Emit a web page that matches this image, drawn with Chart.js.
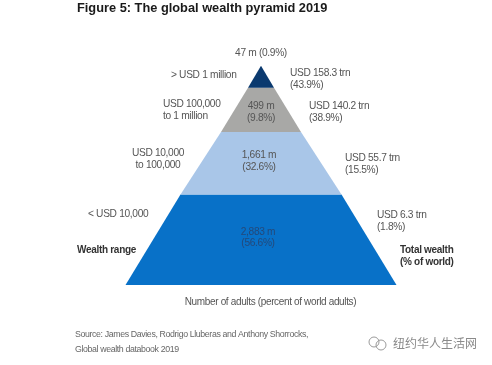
<!DOCTYPE html>
<html>
<head>
<meta charset="utf-8">
<title>The global wealth pyramid 2019</title>
<script src="https://cdn.jsdelivr.net/npm/chart.js@4"></script>
<style>
  html, body { margin: 0; padding: 0; background: #fff; }
  canvas { display: block; }
</style>
</head>
<body>
<canvas id="piramide" width="492" height="365"></canvas>
<script>
// pyramid bands, top to bottom
const bandas = ['> USD 1 million', 'USD 100,000 to 1 million', 'USD 10,000 to 100,000', '< USD 10,000'];
const adultos = [['47 m (0.9%)'], ['499 m', '(9.8%)'], ['1,661 m', '(32.6%)'], ['2,883 m', '(56.6%)']];
const riqueza = [['USD 158.3 trn', '(43.9%)'], ['USD 140.2 trn', '(38.9%)'], ['USD 55.7 trn', '(15.5%)'], ['USD 6.3 trn', '(1.8%)']];
const rangos = [['> USD 1 million'], ['USD 100,000', 'to 1 million'], ['USD 10,000', 'to 100,000'], ['< USD 10,000']];
const colores = ['#0b3a6f', '#a8a8a6', '#a9c6e8', '#0871c8'];

// edges: depth below the apex, half width at that depth
const profundidad = [0, 22, 66, 128.5, 219];
const semiancho = [0, 13, 40, 80.5, 135.5];

const titulo = 'Figure 5: The global wealth pyramid 2019';
const fuente = ['Source: James Davies, Rodrigo Lluberas and Anthony Shorrocks,', 'Global wealth databook 2019'];
const marca = '纽约华人生活网';

const datasets = bandas.map((nombre, i) => ({
  label: nombre,
  data: [
    {x: -semiancho[i], y: profundidad[i]},
    {x: semiancho[i], y: profundidad[i]},
    {x: semiancho[i + 1], y: profundidad[i + 1]},
    {x: -semiancho[i + 1], y: profundidad[i + 1]},
    {x: -semiancho[i], y: profundidad[i]}
  ],
  showLine: true,
  fill: 'shape',
  tension: 0,
  pointRadius: 0,
  borderWidth: 0,
  backgroundColor: colores[i],
  borderColor: colores[i]
}));

function escribir(ctx, lineas, x, y, alto, align, font, color, espacio) {
  ctx.font = font;
  ctx.fillStyle = color;
  ctx.textAlign = align;
  ctx.textBaseline = 'middle';
  ctx.letterSpacing = (espacio || 0) + 'px';  // the original type is narrower than Liberation
  lineas.forEach((l, i) => ctx.fillText(l, x, y + i * alto));
}

const textos = {
  id: 'textos',
  afterDraw(chart) {
    const ctx = chart.ctx;
    const normal = '10.2px "Liberation Sans"';
    const negrita = 'bold 10px "Liberation Sans"';
    const gris = '#555';
    const junto = -0.33;
    ctx.save();
    // numero de adultos
    escribir(ctx, adultos[0], 261, 53, 12, 'center', normal, gris, junto);
    escribir(ctx, adultos[1], 261, 106, 12, 'center', normal, gris, junto);
    escribir(ctx, adultos[2], 259, 155, 12, 'center', normal, gris, junto);
    escribir(ctx, adultos[3], 258, 232, 11.5, 'center', normal, '#24497a', junto);
    // rangos de riqueza
    escribir(ctx, rangos[0], 171, 75, 12, 'left', normal, gris, junto);
    escribir(ctx, rangos[1], 163, 104, 12, 'left', normal, gris, junto);
    escribir(ctx, rangos[2], 158, 153, 12, 'center', normal, gris, junto);
    escribir(ctx, rangos[3], 88, 214, 12, 'left', normal, gris, junto);
    // riqueza total
    escribir(ctx, riqueza[0], 290, 73, 12, 'left', normal, gris, junto);
    escribir(ctx, riqueza[1], 309, 106, 12, 'left', normal, gris, junto);
    escribir(ctx, riqueza[2], 345, 158, 12, 'left', normal, gris, junto);
    escribir(ctx, riqueza[3], 377, 215, 12, 'left', normal, gris, junto);
    // encabezados de los lados
    escribir(ctx, ['Wealth range'], 77, 250, 12, 'left', negrita, '#333', -0.3);
    escribir(ctx, ['Total wealth', '(% of world)'], 400, 250, 12, 'left', negrita, '#333', -0.3);
    escribir(ctx, ['Number of adults (percent of world adults)'], 270.5, 302, 12, 'center', '10px "Liberation Sans"', gris, -0.35);
    escribir(ctx, fuente, 75, 335, 14.5, 'left', '8.8px "Liberation Sans"', '#666', -0.38);
    // marca de agua
    escribir(ctx, [marca], 393, 343, 12, 'left', '12px "Noto Sans CJK SC"', '#8a8a8a');
    ctx.strokeStyle = '#9a9a9a';
    ctx.lineWidth = 1;
    ctx.beginPath();
    ctx.arc(374, 342, 5, 0, Math.PI * 2);
    ctx.moveTo(386, 345);
    ctx.arc(381, 345, 5, 0, Math.PI * 2);
    ctx.stroke();
    ctx.restore();
  }
};

const ctx = document.getElementById('piramide').getContext('2d');
new Chart(ctx, {
  type: 'scatter',
  data: {datasets},
  plugins: [textos],
  options: {
    responsive: false,
    animation: false,
    layout: {padding: {left: 77, right: 47, bottom: 80}},
    plugins: {
      legend: {display: false},
      tooltip: {enabled: false},
      title: {
        display: true,
        text: titulo,
        align: 'start',
        color: '#1a1a1a',
        font: {family: '"Liberation Sans"', size: 12.8, weight: 'bold'},
        padding: {top: 1, bottom: 49.5}
      }
    },
    scales: {
      x: {type: 'linear', display: false, min: -184, max: 184},
      y: {type: 'linear', display: false, reverse: true, min: 0, max: 219}
    }
  }
});
</script>
</body>
</html>
